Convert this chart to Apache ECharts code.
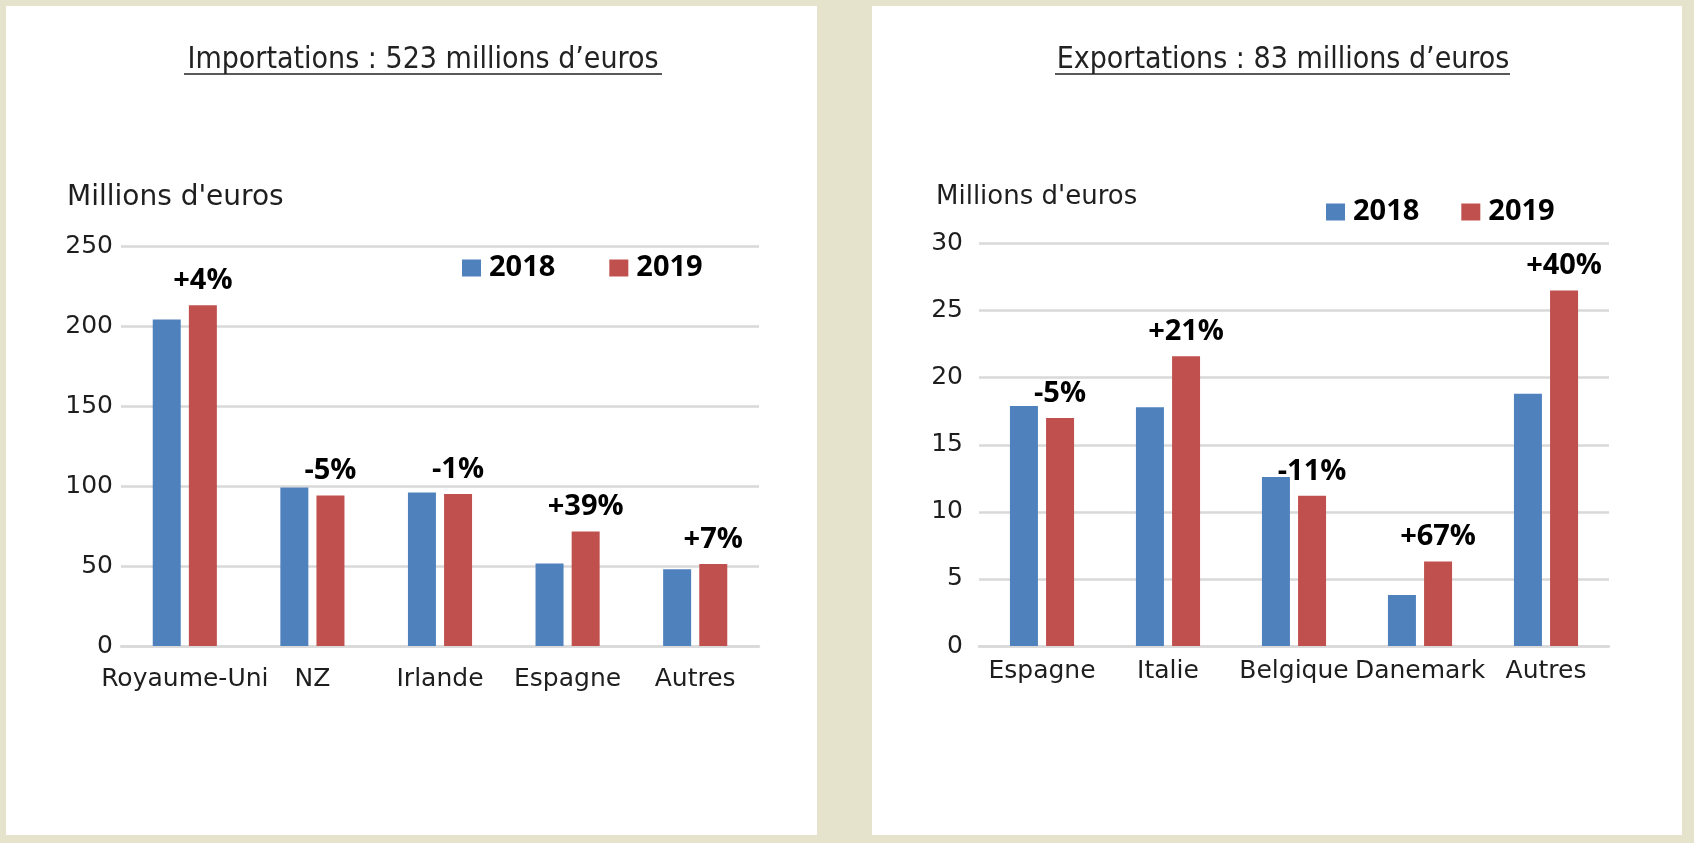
<!DOCTYPE html>
<html>
<head>
<meta charset="utf-8">
<script src="https://cdn.jsdelivr.net/npm/echarts@6/dist/echarts.min.js"></script>
<style>
  html, body { margin: 0; padding: 0; background: #E6E3CC; }
  #chart { width: 1694px; height: 843px; }
</style>
</head>
<body>
<div id="chart"></div>
<script>
// ---- Data ----
const impCategories = ['Royaume-Uni', 'NZ', 'Irlande', 'Espagne', 'Autres'];
const imp2018 = [204, 99, 96, 51.5, 48];
const imp2019 = [213, 94, 95, 71.5, 51.3];
const impChange = ['+4%', '-5%', '-1%', '+39%', '+7%'];

const expCategories = ['Espagne', 'Italie', 'Belgique', 'Danemark', 'Autres'];
const exp2018 = [17.9, 17.8, 12.6, 3.8, 18.8];
const exp2019 = [17.0, 21.6, 11.2, 6.3, 26.5];
const expChange = ['-5%', '+21%', '-11%', '+67%', '+40%'];

const impTitle = 'Importations : 523 millions d\u2019euros';
const expTitle = 'Exportations : 83 millions d\u2019euros';
const unitLabel = "Millions d'euros";
const years = ['2018', '2019'];

// ---- Styles ----
const BLUE = '#4F81BD', RED = '#C0504D', GRID = '#D9D9D9', TXT = '#1E1E1E';
const axisFont = 'DejaVu Sans';
const boldFont = 'Open Sans';

function yAxis(gridIndex, max, interval) {
  return {
    type: 'value', gridIndex, min: 0, max, interval,
    axisLine: { show: false }, axisTick: { show: false },
    axisLabel: { color: TXT, fontFamily: axisFont, fontSize: 25, margin: gridIndex === 0 ? 8 : 16 },
    splitLine: { lineStyle: { color: GRID, width: 2.5 } }
  };
}
function xAxis(gridIndex, cats, margin) {
  return {
    type: 'category', gridIndex, data: cats,
    axisLine: { lineStyle: { color: GRID, width: 2.5 } },
    axisTick: { show: false },
    axisLabel: { color: TXT, fontFamily: axisFont, fontSize: 25, lineHeight: 25, margin, interval: 0 }
  };
}
function barSeries(name, idx, data, color, labels) {
  const s = {
    name, type: 'bar', xAxisIndex: idx, yAxisIndex: idx, data,
    barWidth: 28, barGap: '29%',
    itemStyle: { color }
  };
  if (labels) {
    s.label = {
      show: true, position: 'top', distance: 10,
      formatter: p => labels[p.dataIndex],
      color: '#000', fontFamily: boldFont, fontWeight: 'bold', fontSize: 29, lineHeight: 29
    };
  }
  return s;
}
function legend(left, top, gap) {
  return {
    left, top, padding: 0, itemGap: gap, icon: 'rect', itemWidth: 19, itemHeight: 17,
    data: years, selectedMode: false,
    textStyle: { color: '#000', fontFamily: boldFont, fontWeight: 'bold', fontSize: 29, lineHeight: 30, padding: [0, 0, 0, 3] }
  };
}

const chart = echarts.init(document.getElementById('chart'), null, { renderer: 'canvas' });
chart.setOption({
  backgroundColor: '#E6E3CC',
  animation: false,
  graphic: [
    { type: 'rect', z: -10, shape: { x: 6, y: 6, width: 811, height: 829 }, style: { fill: '#FFFFFF' } },
    { type: 'rect', z: -10, shape: { x: 872, y: 6, width: 810, height: 829 }, style: { fill: '#FFFFFF' } },
    { type: 'line', z: 10, shape: { x1: 184, y1: 74, x2: 662, y2: 74 }, style: { stroke: '#222', lineWidth: 1.6 } },
    { type: 'line', z: 10, shape: { x1: 1055, y1: 74, x2: 1510, y2: 74 }, style: { stroke: '#222', lineWidth: 1.6 } }
  ],
  title: [
    { text: impTitle, left: 423, top: 45, textAlign: 'center', padding: 0,
      textStyle: { fontFamily: 'DejaVu Sans Condensed', fontWeight: 'normal', fontSize: 30, lineHeight: 30, color: '#222' } },
    { text: expTitle, left: 1283, top: 45, textAlign: 'center', padding: 0,
      textStyle: { fontFamily: 'DejaVu Sans Condensed', fontWeight: 'normal', fontSize: 30, lineHeight: 30, color: '#222' } },
    { text: unitLabel, left: 67, top: 184, padding: 0,
      textStyle: { fontFamily: axisFont, fontWeight: 'normal', fontSize: 28, lineHeight: 28, color: TXT } },
    { text: unitLabel, left: 936, top: 184, padding: 0,
      textStyle: { fontFamily: axisFont, fontWeight: 'normal', fontSize: 26, lineHeight: 26, color: TXT } }
  ],
  legend: [ legend(462, 253, 54), legend(1326, 197, 42) ],
  grid: [
    { left: 121, top: 246, width: 638, height: 400 },
    { left: 979, top: 243.6, width: 630, height: 402.4 }
  ],
  xAxis: [ xAxis(0, impCategories, 21), xAxis(1, expCategories, 13) ],
  yAxis: [ yAxis(0, 250, 50), yAxis(1, 30, 5) ],
  series: [
    barSeries('2018', 0, imp2018, BLUE),
    barSeries('2019', 0, imp2019, RED, impChange),
    barSeries('2018', 1, exp2018, BLUE),
    barSeries('2019', 1, exp2019, RED, expChange)
  ]
});
</script>
</body>
</html>
